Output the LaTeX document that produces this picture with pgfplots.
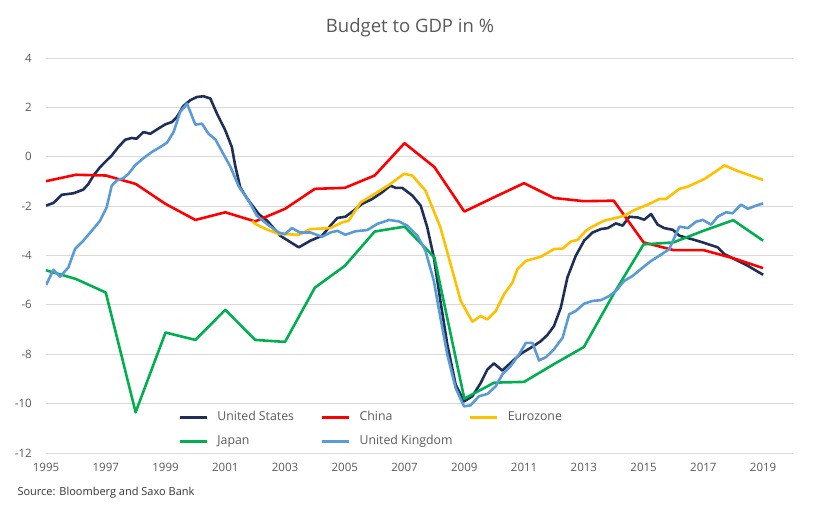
\documentclass[border=0pt]{standalone}
\usepackage{pgfplots}
\pgfplotsset{compat=1.18}
\usepackage{fontspec}
\setmainfont{Open Sans}
\definecolor{usnavy}{HTML}{1F2F57}
\definecolor{cnred}{HTML}{FF0000}
\definecolor{euyellow}{HTML}{FFC000}
\definecolor{jpgreen}{HTML}{00B050}
\definecolor{ukblue}{HTML}{5B9BD5}
\definecolor{txtgray}{HTML}{595959}
\definecolor{gridgray}{HTML}{D9D9D9}
\begin{document}
\begin{tikzpicture}[x=1pt,y=1pt]
\begin{axis}[
  at={(0,0)}, anchor=south west,
  scale only axis, width=747pt, height=395pt,
  xmin=1995, xmax=2020, ymin=-12, ymax=4,
  xtick={1995,1997,...,2019}, ytick={-12,-10,...,4},
  axis line style={draw=none}, major tick length=0pt,
  ymajorgrids, grid style={gridgray, line width=0.9pt},
  tick label style={font=\fontsize{11.5}{13}\selectfont, text=txtgray, inner sep=0pt},
  xticklabel style={anchor=north, yshift=-10pt},
  yticklabel style={anchor=east, xshift=-14pt},
  /pgf/number format/assume math mode=true,
  /pgf/number format/1000 sep={},
  legend columns=3,
  legend cell align=left,
  legend style={at={(0.1767,0.106)}, anchor=north west, draw=none, fill=none,
    inner sep=0pt, font=\fontsize{12.3}{14}\selectfont, text=txtgray,
    row sep=12pt, column sep=0pt,
    nodes={inner sep=0pt, text height=9pt, text depth=3pt}},
  legend image code/.code={\draw[#1, line width=3.2pt] (0pt,0pt) -- (27pt,0pt);},
  every axis plot/.append style={line width=2.6pt, line join=round, mark=none},
]
\addplot[usnavy] coordinates {
(1995.0,-1.98)(1995.25,-1.87)(1995.53,-1.54)(1995.92,-1.48)(1996.25,-1.33)(1996.42,-1.10)
(1996.59,-0.76)(1996.81,-0.42)(1997.03,-0.15)(1997.2,0.05)(1997.42,0.39)(1997.65,0.69)
(1997.87,0.76)(1998.03,0.73)(1998.26,1.00)(1998.49,0.93)(1998.76,1.14)(1998.99,1.31)
(1999.22,1.41)(1999.38,1.61)(1999.6,2.06)(1999.83,2.29)(2000.05,2.42)(2000.27,2.45)
(2000.5,2.36)(2000.72,1.75)(2001.0,1.07)(2001.22,0.39)(2001.33,-0.35)(2001.5,-1.24)
(2001.74,-1.71)(2002.12,-2.32)(2002.4,-2.59)(2002.84,-3.2)(2003.46,-3.67)(2003.85,-3.40)
(2004.24,-3.2)(2004.52,-2.79)(2004.75,-2.48)(2005.02,-2.43)(2005.3,-2.18)(2005.58,-1.91)
(2005.92,-1.71)(2006.25,-1.44)(2006.53,-1.17)(2006.7,-1.26)(2006.92,-1.26)(2007.26,-1.57)
(2007.54,-1.98)(2007.76,-2.86)(2007.98,-4.08)(2008.2,-5.84)(2008.43,-7.6)(2008.71,-9.23)
(2008.99,-9.91)(2009.27,-9.70)(2009.55,-9.16)(2009.77,-8.62)(2009.99,-8.37)(2010.27,-8.66)
(2010.55,-8.35)(2010.89,-7.98)(2011.22,-7.74)(2011.56,-7.47)(2011.78,-7.22)(2012.0,-6.86)
(2012.23,-6.11)(2012.45,-4.89)(2012.73,-4.01)(2013.01,-3.40)(2013.29,-3.07)(2013.57,-2.93)
(2013.8,-2.89)(2014.07,-2.70)(2014.3,-2.79)(2014.52,-2.43)(2014.8,-2.46)(2015.02,-2.55)
(2015.25,-2.32)(2015.47,-2.75)(2015.69,-2.89)(2015.98,-2.96)(2016.2,-3.20)(2016.59,-3.33)
(2016.98,-3.47)(2017.48,-3.67)(2017.7,-3.94)(2017.98,-4.11)(2018.49,-4.42)(2019.0,-4.78)
};
\addlegendentry{\makebox[112pt][l]{\hspace{9pt}United States}}
\addplot[cnred] coordinates {
(1995,-0.99)(1996,-0.73)(1997,-0.76)(1998,-1.10)(1999,-1.91)(2000,-2.56)(2001,-2.25)
(2002,-2.62)(2003,-2.11)(2004,-1.30)(2005,-1.26)(2006,-0.76)(2007,0.55)(2008,-0.42)
(2009,-2.22)(2010,-1.64)(2011,-1.07)(2012,-1.67)(2013,-1.80)(2014,-1.78)(2015,-3.47)
(2016,-3.78)(2017,-3.78)(2018,-4.11)(2019,-4.51)
};
\addlegendentry{\makebox[118pt][l]{\hspace{9pt}China}}
\addplot[euyellow] coordinates {
(2001.9,-2.6)(2002.0,-2.72)(2002.4,-2.95)(2002.8,-3.13)(2003.46,-3.16)(2003.85,-2.93)
(2004.52,-2.89)(2004.91,-2.66)(2005.13,-2.59)(2005.53,-1.85)(2006.09,-1.44)(2006.53,-1.10)
(2006.98,-0.69)(2007.26,-0.76)(2007.7,-1.37)(2008.2,-2.86)(2008.54,-4.35)(2008.88,-5.84)
(2009.27,-6.68)(2009.55,-6.45)(2009.77,-6.59)(2010.05,-6.25)(2010.33,-5.57)(2010.61,-5.10)
(2010.78,-4.55)(2011.06,-4.22)(2011.56,-4.05)(2012.0,-3.74)(2012.29,-3.72)(2012.57,-3.43)
(2012.79,-3.37)(2013.07,-3.0)(2013.24,-2.86)(2013.68,-2.59)(2014.13,-2.46)(2014.35,-2.39)
(2014.69,-2.16)(2015.14,-1.94)(2015.53,-1.71)(2015.75,-1.71)(2016.2,-1.30)(2016.48,-1.21)
(2017.04,-0.90)(2017.37,-0.63)(2017.71,-0.35)(2018.15,-0.58)(2019.0,-0.94)
};
\addlegendentry{\hspace{9pt}Eurozone}
\addplot[jpgreen] coordinates {
(1995,-4.6)(1996,-4.95)(1997,-5.5)(1998,-10.35)(1999,-7.12)(2000,-7.42)(2001,-6.2)
(2002,-7.42)(2003,-7.5)(2004,-5.3)(2005,-4.42)(2006,-3.03)(2007,-2.83)(2008,-4.08)
(2009,-9.8)(2010,-9.15)(2011,-9.12)(2012,-8.4)(2013,-7.71)(2014,-5.55)(2015,-3.55)
(2016,-3.47)(2017,-3.0)(2018,-2.57)(2019,-3.40)
};
\addlegendentry{\makebox[112pt][l]{\hspace{9pt}Japan}}
\addplot[ukblue] coordinates {
(1995.0,-5.2)(1995.25,-4.58)(1995.47,-4.86)(1995.75,-4.48)(1995.97,-3.74)(1996.25,-3.40)
(1996.53,-3.0)(1996.81,-2.59)(1997.03,-2.05)(1997.2,-1.17)(1997.37,-0.96)(1997.59,-0.87)
(1997.76,-0.69)(1997.98,-0.35)(1998.26,-0.06)(1998.54,0.19)(1998.82,0.39)(1999.05,0.57)
(1999.27,1.00)(1999.49,1.81)(1999.72,2.15)(2000.0,1.30)(2000.22,1.34)(2000.44,0.93)
(2000.67,0.70)(2000.9,0.19)(2001.17,-0.40)(2001.45,-1.2)(2001.78,-1.78)(2002.06,-2.39)
(2002.39,-2.72)(2002.79,-3.07)(2003.0,-3.13)(2003.23,-2.89)(2003.5,-3.07)(2003.85,-3.07)
(2004.24,-3.24)(2004.52,-3.07)(2004.75,-3.0)(2005.02,-3.16)(2005.35,-3.02)(2005.75,-2.97)
(2006.09,-2.72)(2006.48,-2.56)(2006.81,-2.62)(2007.09,-2.79)(2007.43,-3.2)(2007.7,-3.81)
(2007.98,-5.03)(2008.2,-6.52)(2008.43,-8.01)(2008.71,-9.37)(2008.99,-10.11)(2009.21,-10.07)
(2009.49,-9.70)(2009.77,-9.61)(2010.05,-9.30)(2010.27,-8.82)(2010.55,-8.48)(2010.83,-8.01)
(2011.06,-7.54)(2011.28,-7.54)(2011.5,-8.25)(2011.73,-8.12)(2012.0,-7.80)(2012.29,-7.33)
(2012.51,-6.38)(2012.73,-6.25)(2013.01,-5.95)(2013.29,-5.84)(2013.57,-5.81)(2013.85,-5.64)
(2014.07,-5.44)(2014.35,-5.03)(2014.63,-4.83)(2014.91,-4.55)(2015.25,-4.22)(2015.58,-3.97)
(2015.86,-3.74)(2016.03,-3.27)(2016.2,-2.83)(2016.48,-2.89)(2016.76,-2.63)(2016.98,-2.56)
(2017.26,-2.75)(2017.48,-2.43)(2017.76,-2.25)(2017.98,-2.29)(2018.26,-1.94)(2018.49,-2.11)
(2018.76,-1.98)(2019.0,-1.89)
};
\addlegendentry{\hspace{9pt}United Kingdom}
\end{axis}
\node[font=\fontsize{18.5}{22}\selectfont, text=txtgray] at (364,425) {Budget to GDP in \%};
\node[anchor=west, font=\fontsize{11}{13}\selectfont, text=black!80] at (-32,-40) {Source: Bloomberg and Saxo Bank};
\pgfresetboundingbox
\path[use as bounding box] (-46,-55) rectangle (774,453);
\end{tikzpicture}
\end{document}
